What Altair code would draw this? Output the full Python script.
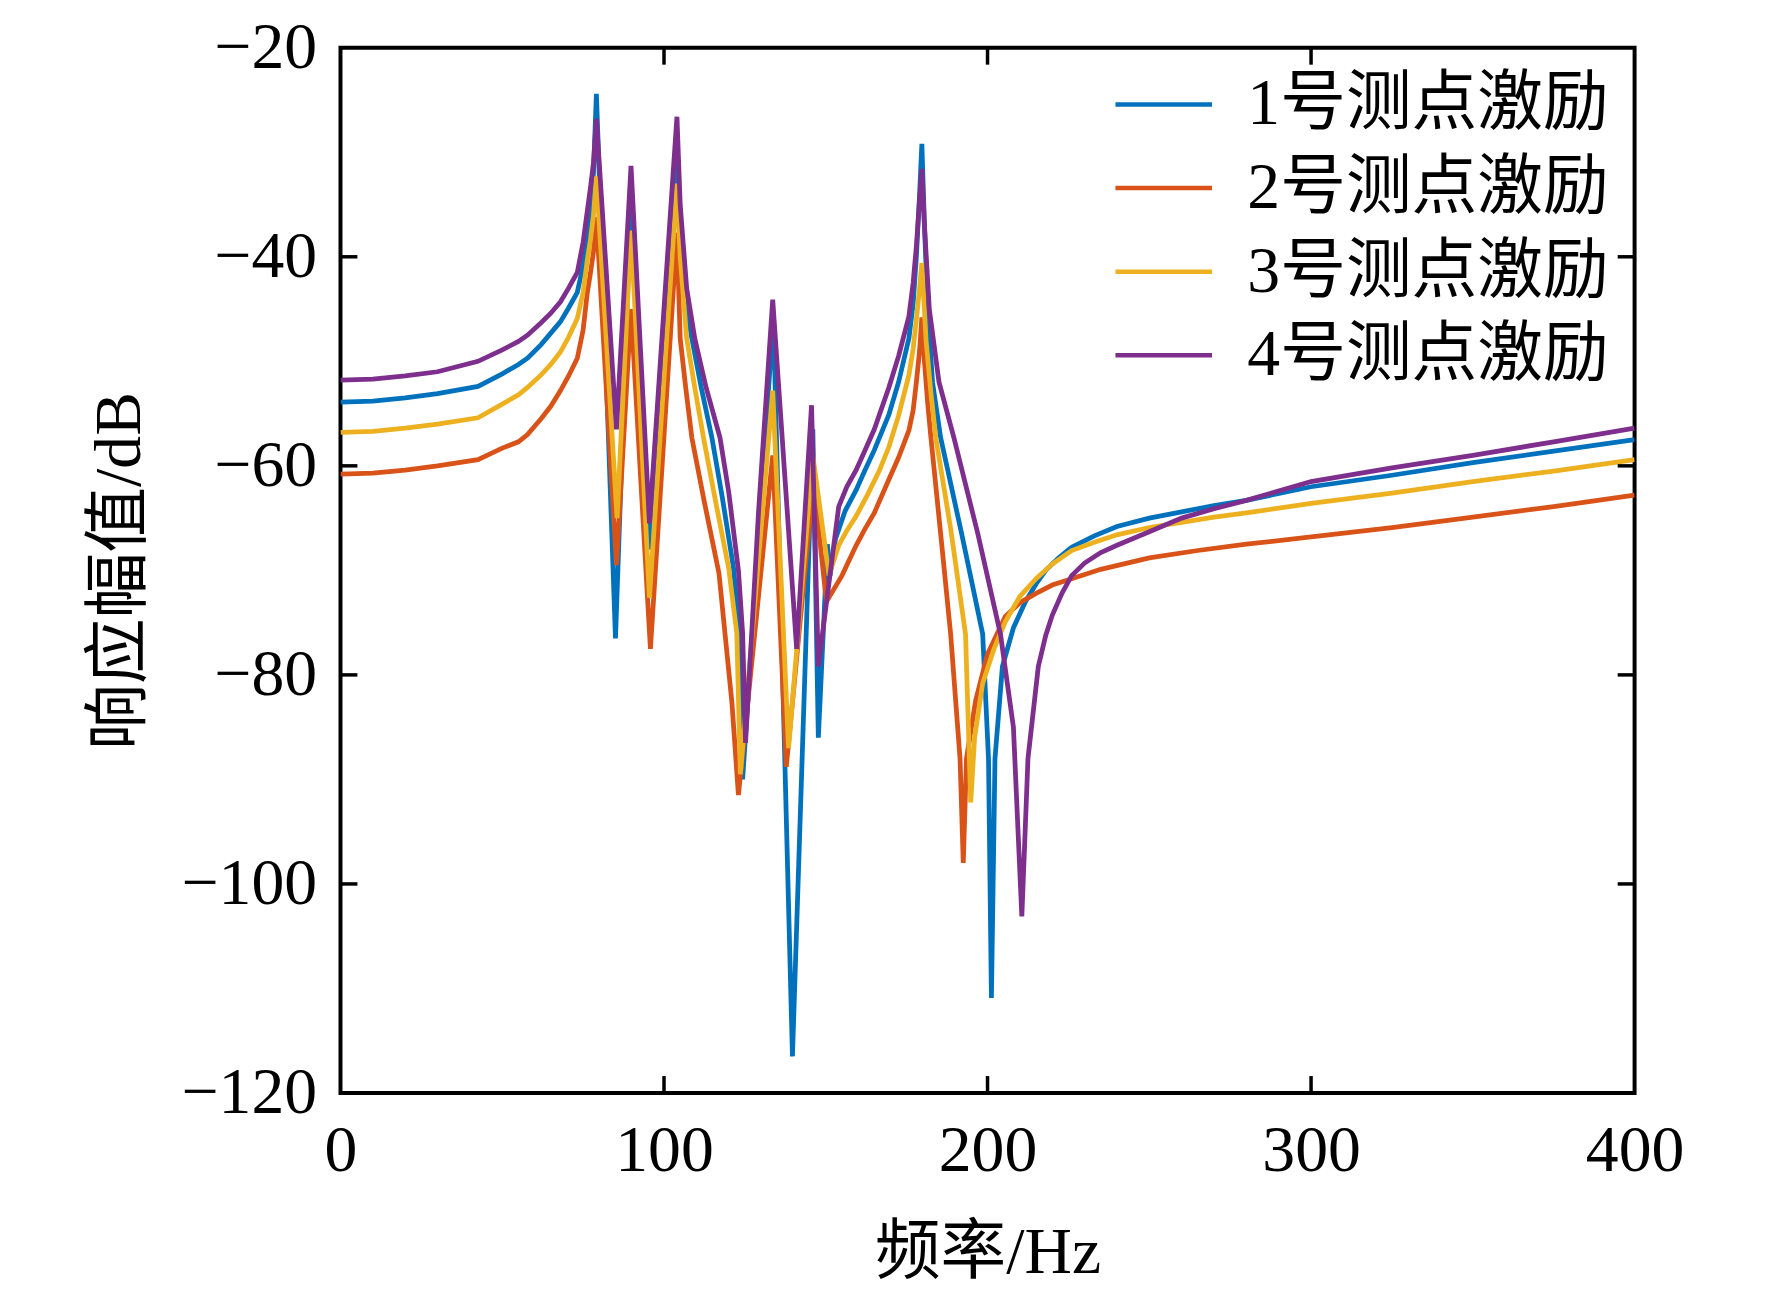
import altair as alt
import pandas as pd

names = ["1号测点激励", "2号测点激励", "3号测点激励", "4号测点激励"]
colors = ["#0072BD", "#D95319", "#EDB120", "#7E2F8E"]

f1 = [0, 10, 20, 30, 42.5, 50, 55, 57.8, 62, 65, 68, 70.5, 73.2, 75, 76.3, 77.3, 78.2, 79.1,
      85, 89.8, 95.5, 104, 105, 106.5, 108.6, 111.5, 114.8, 118, 121.5, 123, 124.3,
      133.8, 139.7, 146, 147.7, 150.5, 151.3, 153, 156, 159.4, 162, 165, 169.5, 172.5, 175.7, 177, 178, 179,
      179.7, 180.5, 181.5, 183, 185.5, 192, 198.5, 200.3, 201.2, 202.3, 204.6, 208, 211.7, 215, 218, 222,
      226, 233, 240, 250, 260, 270, 280, 300, 325, 350, 375, 400]
v1 = [-53.9, -53.8, -53.5, -53.1, -52.4, -51.2, -50.3, -49.7, -48.4, -47.3, -46.2, -44.9, -43.4, -40.8,
      -37.7, -35, -32, -24.4,
      -76.5, -34, -68, -29.9, -38, -44, -47.8, -52.5, -57.3, -63, -69.8, -75, -90,
      -45.7, -116.5, -56.5, -86, -67.5, -70.5, -67, -64.3, -62.3, -60.5, -58.5, -55.1, -52, -47.8, -44.5,
      -40, -34, -29.2, -37, -45, -52, -57.3, -66.5, -76.1, -88, -110.9, -88, -79.2, -75.5, -73, -71.3, -70,
      -68.8, -67.8, -66.7, -65.8, -65.0, -64.4, -63.8, -63.3, -62.0, -60.9, -59.7, -58.6, -57.5]

f2 = [0, 10, 20, 30, 42.5, 50, 55, 57.8, 62, 65, 68, 70.5, 73.2, 75, 76.3, 77.3, 78.2, 79.1,
      85.3, 89.8, 95.8, 104, 105, 106.7, 108.6, 112.5, 117, 121, 123,
      133.6, 137.8, 146.2, 150.2, 155, 159.4, 162, 165, 169.5, 172.5, 175.7, 177, 178, 179, 179.7,
      180.5, 181.5, 182.5, 186, 188.6, 191.5, 192.5, 193.5, 196.3, 200, 205.5, 210, 215, 220, 226, 235,
      250, 265, 280, 300, 325, 350, 375, 400]
v2 = [-60.8, -60.7, -60.4, -60.0, -59.4, -58.3, -57.7, -57.0, -55.5, -54.3, -52.8, -51.4, -49.7, -47,
      -43.4, -41.5, -39.5, -36.2,
      -69.5, -45, -77.5, -37.7, -47.8, -52.5, -57.3, -63.5, -70.3, -82.7, -91.5,
      -59, -88.8, -61.5, -73, -70.5, -67.6, -66.1, -64.5, -61.3, -59.2, -56.6, -54.7, -52, -49, -45.8,
      -50, -54, -57.3, -68, -76.1, -88, -98, -88, -82.5, -78, -74.4, -73.1, -72.2, -71.4, -70.8, -69.9,
      -68.8, -68.1, -67.5, -66.8, -65.9, -64.9, -63.9, -62.8]

f3 = [0, 10, 20, 30, 42.5, 50, 55, 57.8, 62, 65, 68, 70.5, 73.2, 75, 76.3, 77.3, 78.2, 79.1,
      85.5, 89.8, 95.5, 104, 105, 107, 109.5, 112.2, 116, 120, 122.5, 123.6,
      133.6, 138.5, 146, 151, 154, 156.5, 159.4, 163, 166.5, 169.5, 172.5, 175.7, 177, 178, 179, 179.7,
      181, 182.5, 184, 188.6, 193.2, 194.8, 196, 198.5, 202, 205.5, 210, 215, 220, 226, 233, 240, 250,
      260, 270, 280, 300, 325, 350, 375, 400]
v3 = [-56.8, -56.7, -56.4, -56.0, -55.4, -54.1, -53.2, -52.5, -51.3, -50.3, -49.1, -47.7, -45.9, -43.4,
      -40.3, -38.3, -36, -32.3,
      -65, -37.5, -72.6, -33, -40, -47.8, -52.5, -57.3, -63.5, -69.8, -76, -89.5,
      -52.8, -87, -59, -70.5, -67.6, -66.2, -64.8, -62.7, -60.5, -58.2, -55.2, -51.3, -48.8, -46, -43,
      -40.6, -48, -53, -57.3, -66, -76.1, -92.2, -86, -80.8, -77.5, -74.9, -72.5, -70.8, -69.4, -68.1,
      -67.3, -66.6, -65.9, -65.4, -64.9, -64.5, -63.6, -62.6, -61.5, -60.5, -59.4]

f4 = [0, 10, 20, 30, 42.5, 50, 55, 57.8, 62, 65, 68, 70.5, 73.2, 75, 76.3, 77.3, 78.2, 79.1,
      85.3, 89.8, 95.5, 104, 105, 107, 109.5, 113, 117.3, 120, 123, 124.3, 125.2,
      129.2, 133.6, 141, 145.6, 147.7, 150, 154, 156.5, 159.4, 162, 165, 169.5, 172.5, 175.7, 177, 178, 179,
      179.7, 180.5, 182, 185, 189.6, 197, 204, 208, 210.6, 212.5, 215.7, 218, 220, 223, 226, 230, 235, 240,
      250, 260, 270, 280, 300, 325, 350, 375, 400]
v4 = [-51.8, -51.7, -51.4, -51.0, -50.0, -48.9, -48.1, -47.5, -46.3, -45.4, -44.3, -43.0, -41.5, -38.6,
      -35.6, -33.3, -31, -26.8,
      -56.5, -31.3, -65.5, -26.6, -35, -43, -47.8, -52.5, -57.3, -62.5, -70, -76, -86.5,
      -64.5, -44.1, -77.5, -54.2, -79.2, -73.6, -63.9, -62, -60.4, -58.6, -56.5, -52.5, -49.5, -45.7, -42.5,
      -39, -34.5, -31.6, -37, -45, -52, -57.3, -66.5, -76.1, -85, -103.1, -88, -79.2, -76.2, -74.3, -72.2,
      -70.5, -69.3, -68.3, -67.6, -66.3, -65.0, -64.1, -63.3, -61.5, -60.2, -59.0, -57.7, -56.4]

x_ticks = [100, 200, 300]
y_ticks = [-40, -60, -80, -100]

freqs = [f1, f2, f3, f4]
vals = [v1, v2, v3, v4]
rows = []
for name, fs, vs in zip(names, freqs, vals):
    assert len(fs) == len(vs), (name, len(fs), len(vs))
    for a, b in zip(fs, vs):
        rows.append({"f": a, "v": b, "s": name})
df = pd.DataFrame(rows)

W, H = 1300, 1050
FONT = "Liberation Serif, Noto Sans CJK SC"

xscale = alt.Scale(domain=[0, 400], nice=False, zero=False)
yscale = alt.Scale(domain=[-120, -20], nice=False, zero=False)

color = alt.Color("s:N", scale=alt.Scale(domain=names, range=colors),
                  legend=alt.Legend(title=None, orient="none", legendX=776, legendY=6,
                                    symbolType="stroke", symbolSize=9409, symbolStrokeWidth=4.5,
                                    labelFontSize=66, labelFont=FONT, labelColor="black",
                                    labelOffset=33, rowPadding=-1, padding=0, labelLimit=600))

xax = alt.Axis(values=[0, 100, 200, 300, 400], tickSize=0, domain=False, grid=False,
               labelFontSize=66, labelFont=FONT, labelColor="black", labelPadding=26,
               labelFlush=False, labelOverlap=False,
               title="频率/Hz", titleFontSize=66, titleFont=FONT, titleFontWeight="normal",
               titleColor="black", titlePadding=37)
yax = alt.Axis(values=[-20, -40, -60, -80, -100, -120], tickSize=0, domain=False, grid=False,
               labelFontSize=66, labelFont=FONT, labelColor="black", labelPadding=24,
               labelFlush=False, labelOverlap=False,
               title="响应幅值/dB", titleFontSize=66, titleFont=FONT, titleFontWeight="normal",
               titleColor="black", titlePadding=28)

X = lambda fld: alt.X(fld, scale=xscale, axis=xax)
Y = lambda fld: alt.Y(fld, scale=yscale, axis=yax)

layers = []
for name in names:
    layers.append(
        alt.Chart(df).transform_filter(alt.datum.s == name)
        .mark_line(strokeWidth=4.8, clip=True)
        .encode(x=X("f:Q"), y=Y("v:Q"), color=color)
    )

xt = pd.DataFrame({"t": x_ticks})
yt = pd.DataFrame({"t": y_ticks})
TL = 17
tick_style = dict(color="black", strokeWidth=3.5)
ticks = [
    alt.Chart(xt).mark_rule(**tick_style).encode(x=X("t:Q"), y=alt.value(H), y2=alt.value(H - TL)),
    alt.Chart(xt).mark_rule(**tick_style).encode(x=X("t:Q"), y=alt.value(0), y2=alt.value(TL)),
    alt.Chart(yt).mark_rule(**tick_style).encode(y=Y("t:Q"), x=alt.value(0), x2=alt.value(TL)),
    alt.Chart(yt).mark_rule(**tick_style).encode(y=Y("t:Q"), x=alt.value(W), x2=alt.value(W - TL)),
]

chart = alt.layer(*layers, *ticks).properties(
    width=W, height=H,
    autosize=alt.AutoSizeParams(type="none"),
    padding={"left": 334, "top": 37, "right": 130, "bottom": 200},
    background="white",
).configure_view(stroke="black", strokeWidth=4)

chart.save("out.html", embed_options={"renderer": "svg", "actions": False})
